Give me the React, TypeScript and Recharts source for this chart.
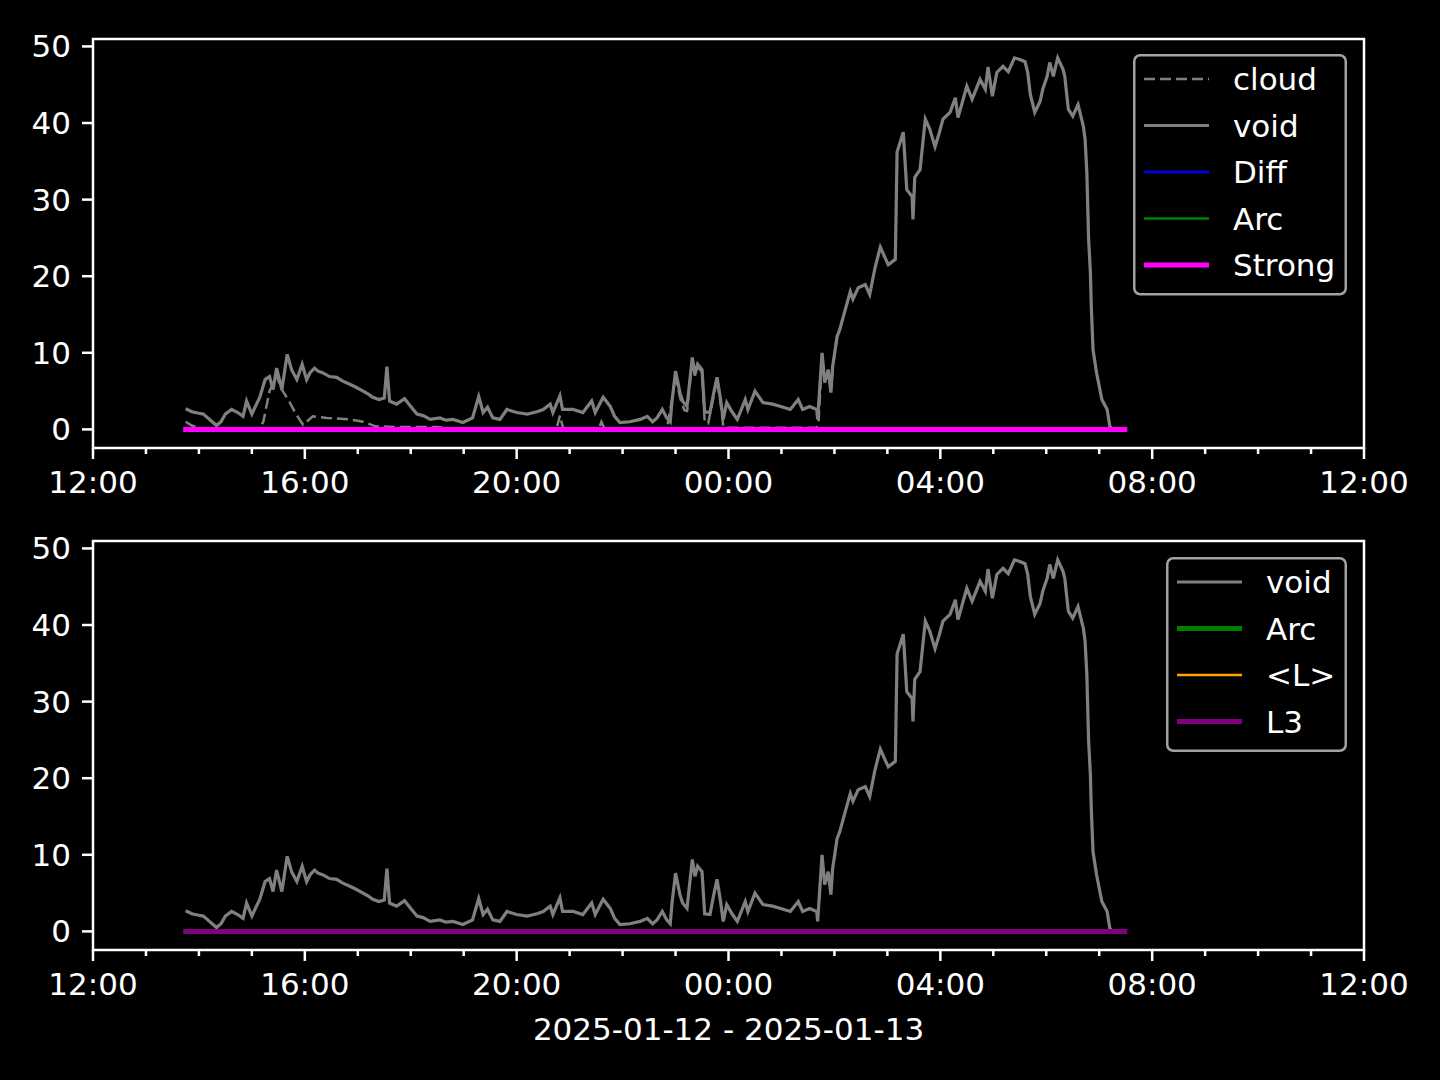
import { LineChart, Line, XAxis, YAxis, ReferenceArea } from 'recharts';

// time stamps are HH:MM, spanning 2025-01-12 12:00 -> 2025-01-13 12:00
const voidTimes = [
  '13:45', '13:52', '14:00', '14:05', '14:10', '14:15', '14:20', '14:25', '14:30', '14:37',
  '14:44', '14:50', '14:54', '15:00', '15:04', '15:09', '15:15', '15:20', '15:24', '15:28',
  '15:34', '15:40', '15:45', '15:51', '15:57', '16:02', '16:06', '16:11', '16:15', '16:20',
  '16:28', '16:36', '16:43', '16:51', '16:58', '17:06', '17:12', '17:17', '17:24', '17:30',
  '17:33', '17:36', '17:44', '17:53', '18:00', '18:07', '18:14', '18:22', '18:33', '18:40',
  '18:48', '18:59', '19:10', '19:17', '19:22', '19:27', '19:33', '19:41', '19:49', '20:00',
  '20:12', '20:23', '20:30', '20:38', '20:41', '20:49', '20:52', '21:04', '21:15', '21:25',
  '21:29', '21:38', '21:46', '21:51', '21:57', '22:08', '22:20', '22:28', '22:34', '22:39',
  '22:45', '22:50', '22:54', '22:56', '23:00', '23:05', '23:08', '23:13', '23:19', '23:22',
  '23:25', '23:30', '23:33', '23:39', '23:44', '23:47', '23:51', '23:54', '23:58', '00:04',
  '00:10', '00:19', '00:22', '00:30', '00:39', '00:50', '01:02', '01:10', '01:19', '01:24',
  '01:32', '01:40', '01:41', '01:46', '01:49', '01:53', '01:56', '01:58', '02:03', '02:06',
  '02:10', '02:18', '02:21', '02:27', '02:35', '02:40', '02:46', '02:52', '02:57', '03:01',
  '03:09', '03:11', '03:18', '03:22', '03:28', '03:29', '03:31', '03:37', '03:43', '03:48',
  '03:54', '03:59', '04:03', '04:11', '04:17', '04:20', '04:30', '04:36', '04:45', '04:51',
  '04:54', '04:59', '05:04', '05:11', '05:17', '05:24', '05:30', '05:36', '05:39', '05:42',
  '05:47', '05:53', '05:56', '06:01', '06:04', '06:08', '06:13', '06:19', '06:21', '06:25',
  '06:30', '06:36', '06:42', '06:44', '06:46', '06:47', '06:48', '06:50', '06:51', '06:53',
  '06:57', '07:03', '07:09', '07:12', '07:15', '07:29',
];
const voidValues = [
  2.7, 2.3, 2.1, 2.0, 1.5, 1.0, 0.5, 1.0, 2.0, 2.6,
  2.2, 1.7, 3.7, 2.0, 3.0, 4.2, 6.5, 6.9, 5.2, 8.0,
  5.2, 9.8, 7.8, 6.5, 8.5, 6.5, 7.4, 8.0, 7.6, 7.4,
  6.9, 6.8, 6.3, 5.9, 5.5, 5.0, 4.6, 4.2, 3.9, 4.1,
  8.2, 3.7, 3.3, 4.0, 3.0, 2.0, 1.8, 1.3, 1.5, 1.2,
  1.3, 0.9, 1.5, 4.3, 2.2, 2.9, 1.5, 1.3, 2.6, 2.2,
  2.0, 2.3, 2.6, 3.3, 2.2, 4.4, 2.6, 2.6, 2.2, 3.7,
  2.2, 4.2, 3.0, 1.7, 0.9, 1.0, 1.3, 1.7, 1.0, 1.5,
  2.6, 1.5, 1.0, 3.7, 7.6, 4.8, 3.7, 3.0, 9.4, 7.2,
  8.5, 7.8, 2.3, 2.2, 5.2, 6.8, 3.9, 1.3, 3.5, 2.3,
  1.3, 3.9, 2.6, 5.0, 3.5, 3.3, 2.9, 2.6, 3.9, 2.6,
  3.0, 2.6, 1.3, 10.0, 6.1, 7.8, 4.8, 8.2, 12.1, 13.0,
  14.7, 18.0, 17.0, 18.5, 18.9, 17.6, 21.1, 23.8, 22.5, 21.5,
  22.2, 36.2, 38.8, 31.3, 30.4, 27.4, 32.9, 33.9, 40.5, 39.2,
  36.9, 38.8, 40.5, 41.4, 43.3, 40.7, 44.8, 43.1, 45.7, 44.4,
  47.3, 43.5, 46.6, 47.4, 46.7, 48.5, 48.3, 48.0, 46.6, 43.7,
  41.4, 42.8, 44.4, 46.1, 47.9, 46.1, 48.5, 47.0, 46.1, 41.8,
  40.9, 42.4, 39.6, 37.9, 33.5, 29.1, 24.8, 20.5, 16.1, 10.4,
  7.4, 3.9, 2.6, 0.4, 0, 0,
];

const cloudTimes = [
  '13:45', '13:52', '14:00', '14:10', '15:05', '15:10', '15:13', '15:20', '15:28', '15:34',
  '15:43', '15:50', '15:58', '16:09', '16:25', '16:51', '17:06', '17:20', '17:45', '18:30',
  '18:50', '20:45', '20:49', '20:53', '21:33', '21:36', '21:40', '22:50', '22:55', '23:00',
  '23:05', '23:10', '23:13', '23:19', '23:22', '23:25', '23:30', '23:33', '23:37', '23:44',
  '23:47', '23:51', '23:54', '23:58', '01:40', '01:42', '01:46', '01:49', '01:53', '01:56',
  '01:58', '02:03', '02:06', '02:10',
];
const cloudValues = [
  1.0, 0.5, 0.2, 0, 0, 0.4, 1.0, 5.0, 7.0, 5.2,
  3.5, 2.0, 0.6, 1.7, 1.5, 1.3, 1.0, 0.4, 0.3, 0.3,
  0, 0, 1.8, 0, 0, 1.0, 0, 0, 3.2, 7.0,
  4.2, 2.5, 2.4, 9.0, 7.0, 8.2, 7.5, 1.0, 0.8, 4.8,
  6.5, 3.5, 0.5, 0.2, 0.2, 0.8, 9.5, 6.5, 7.4, 5.0,
  8.0, 12.1, 13.0, 14.7,
];

// the flat series sit at zero over the whole run
const flatTimes = ['13:45', '07:29'];
const diffValues = [0, 0];
const arcValues = [0, 0];
const strongValues = [0, 0];
const avgLValues = [0, 0];
const l3Values = [0, 0];

const xTicks = [0, 1, 2, 3, 4, 5, 6, 7, 8, 9, 10, 11, 12, 13, 14, 15, 16, 17, 18, 19, 20, 21, 22, 23, 24];
const xTickLabels = ['12:00', '16:00', '20:00', '00:00', '04:00', '08:00', '12:00'];
const yTicks = [0, 10, 20, 30, 40, 50];
const xAxisLabel = '2025-01-12 - 2025-01-13';

const FONT = 'DejaVu Sans, sans-serif';
const FS = 31;
const Y_DOMAIN: [number, number] = [-2.43, 50.97];

const toHours = (s: string) => {
  const [h, m] = s.split(':').map(Number);
  return (h < 12 ? h + 24 : h) + m / 60 - 12;
};
const series = (times: string[], values: number[]) =>
  times.map((t, i) => ({ t: toHours(t), v: values[i] }));

const XTick = (props: any) => {
  const { x, y, payload } = props;
  const major = payload.value % 4 === 0;
  return (
    <g>
      <line x1={x} x2={x} y1={y} y2={y + (major ? 11 : 6)} stroke="#fff" strokeWidth={2.5} />
      {major && (
        <text x={x} y={y + 45} textAnchor="middle" fill="#fff" fontSize={FS} fontFamily={FONT}>
          {xTickLabels[payload.value / 4]}
        </text>
      )}
    </g>
  );
};

const YTick = (props: any) => {
  const { x, y, payload } = props;
  return (
    <g>
      <line x1={x - 11} x2={x} y1={y} y2={y} stroke="#fff" strokeWidth={2.5} />
      <text x={x - 22} y={y + 11} textAnchor="end" fill="#fff" fontSize={FS} fontFamily={FONT}>
        {payload.value}
      </text>
    </g>
  );
};

interface LegendItem {
  label: string;
  color: string;
  width: number;
  dash?: string;
}

function LegendBox({ items, left, top, width }: { items: LegendItem[]; left: number; top: number; width: number }) {
  const step = 46.5;
  const height = items.length * step + 9;
  return (
    <svg style={{ position: 'absolute', left, top }} width={width} height={height}>
      <rect x={1.25} y={1.25} width={width - 2.5} height={height - 2.5} rx={6} fill="#000" stroke="#a3a3a3" strokeWidth={2.5} />
      {items.map((it, i) => {
        const cy = 25 + i * step;
        return (
          <g key={it.label}>
            <line x1={11} x2={76} y1={cy} y2={cy} stroke={it.color} strokeWidth={it.width} strokeDasharray={it.dash} />
            <text x={100} y={cy + 11} fill="#fff" fontSize={FS} fontFamily={FONT}>
              {it.label}
            </text>
          </g>
        );
      })}
    </svg>
  );
}

function Panel({ children }: { children: React.ReactNode }) {
  return (
    <LineChart width={1440} height={540} margin={{ top: 39, right: 76, bottom: 0, left: 0 }}>
      <XAxis
        dataKey="t"
        type="number"
        domain={[0, 24]}
        ticks={xTicks}
        interval={0}
        height={92}
        axisLine={false}
        tickLine={false}
        tickSize={0}
        tickMargin={0}
        tick={<XTick />}
        allowDataOverflow
      />
      <YAxis
        type="number"
        domain={Y_DOMAIN}
        ticks={yTicks}
        width={93}
        axisLine={false}
        tickLine={false}
        tickSize={0}
        tickMargin={0}
        tick={<YTick />}
        allowDataOverflow
      />
      {children}
      <ReferenceArea x1={0} x2={24} y1={Y_DOMAIN[0]} y2={Y_DOMAIN[1]} fill="none" stroke="#fff" strokeWidth={2.5} />
    </LineChart>
  );
}

export default function App() {
  const voidData = series(voidTimes, voidValues);
  return (
    <div style={{ position: 'absolute', left: 0, top: 0, width: 1440, height: 1080, background: '#000', overflow: 'hidden' }}>
      <div style={{ position: 'absolute', left: 0, top: 0 }}>
        <Panel>
          <Line data={series(cloudTimes, cloudValues)} dataKey="v" stroke="#808080" strokeWidth={2.5} strokeDasharray="11 5" dot={false} isAnimationActive={false} />
          <Line data={voidData} dataKey="v" stroke="#808080" strokeWidth={3.2} dot={false} isAnimationActive={false} />
          <Line data={series(flatTimes, diffValues)} dataKey="v" stroke="#0000ff" strokeWidth={2.5} dot={false} isAnimationActive={false} />
          <Line data={series(flatTimes, arcValues)} dataKey="v" stroke="#008000" strokeWidth={2.5} dot={false} isAnimationActive={false} />
          <Line data={series(flatTimes, strongValues)} dataKey="v" stroke="#ff00ff" strokeWidth={5} strokeLinecap="square" dot={false} isAnimationActive={false} />
        </Panel>
      </div>
      <div style={{ position: 'absolute', left: 0, top: 502 }}>
        <Panel>
          <Line data={voidData} dataKey="v" stroke="#808080" strokeWidth={3.2} dot={false} isAnimationActive={false} />
          <Line data={series(flatTimes, arcValues)} dataKey="v" stroke="#008000" strokeWidth={5} dot={false} isAnimationActive={false} />
          <Line data={series(flatTimes, avgLValues)} dataKey="v" stroke="#ffa500" strokeWidth={2.5} dot={false} isAnimationActive={false} />
          <Line data={series(flatTimes, l3Values)} dataKey="v" stroke="#800080" strokeWidth={5} strokeLinecap="square" dot={false} isAnimationActive={false} />
        </Panel>
      </div>
      <LegendBox
        left={1133}
        top={54}
        width={214}
        items={[
          { label: 'cloud', color: '#808080', width: 2.5, dash: '11 5' },
          { label: 'void', color: '#808080', width: 3 },
          { label: 'Diff', color: '#0000ff', width: 2.5 },
          { label: 'Arc', color: '#008000', width: 2.5 },
          { label: 'Strong', color: '#ff00ff', width: 5 },
        ]}
      />
      <LegendBox
        left={1166}
        top={557}
        width={181}
        items={[
          { label: 'void', color: '#808080', width: 3 },
          { label: 'Arc', color: '#008000', width: 5 },
          { label: '<L>', color: '#ffa500', width: 2.5 },
          { label: 'L3', color: '#800080', width: 5 },
        ]}
      />
      <svg style={{ position: 'absolute', left: 0, top: 1000 }} width={1440} height={60}>
        <text x={728.5} y={40} textAnchor="middle" fill="#fff" fontSize={FS} fontFamily={FONT}>
          {xAxisLabel}
        </text>
      </svg>
    </div>
  );
}
